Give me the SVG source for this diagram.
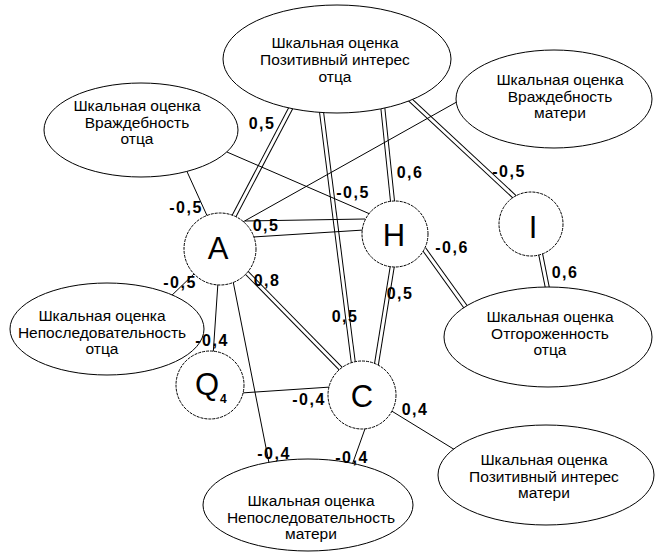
<svg xmlns="http://www.w3.org/2000/svg" width="656" height="555" viewBox="0 0 656 555">
<defs>
<style>
.bg{fill:#fff}
.dbl-o{stroke:#000;stroke-width:5;fill:none}
.dbl-i{stroke:#fff;stroke-width:3;fill:none}
.sgl{stroke:#000;stroke-width:1;fill:none}
.ell{fill:#fff;stroke:#000;stroke-width:1}
.cir{fill:#fff;stroke:#000;stroke-width:1;stroke-dasharray:3 1}
.t{font-family:"Liberation Sans",Arial,sans-serif;font-size:15.5px;text-anchor:middle;fill:#000}
.lbl{font-family:"Liberation Sans",Arial,sans-serif;font-size:16px;font-weight:bold;text-anchor:middle;letter-spacing:1.5px;fill:#000}
.big{font-family:"Liberation Sans",Arial,sans-serif;font-size:31px;text-anchor:middle;fill:#000}
.sub{font-family:"Liberation Sans",Arial,sans-serif;font-size:12px;font-weight:bold;fill:#000}
</style>
</defs>
<rect class="bg" x="0" y="0" width="656" height="555"/>
<g id="connectors">
  <g id="d1"><line class="dbl-o" x1="295" y1="100" x2="233" y2="218"/><line class="dbl-i" x1="295" y1="100" x2="233" y2="218"/></g>
  <g id="d3"><line class="dbl-o" x1="382" y1="100" x2="393" y2="206"/><line class="dbl-i" x1="382" y1="100" x2="393" y2="206"/></g>
  <g id="d4"><line class="dbl-o" x1="320" y1="100" x2="354" y2="368"/><line class="dbl-i" x1="320" y1="100" x2="354" y2="368"/></g>
  <g id="d5"><line class="dbl-o" x1="393" y1="262" x2="376" y2="367"/><line class="dbl-i" x1="393" y1="262" x2="376" y2="367"/></g>
  <g id="d6"><line class="dbl-o" x1="243" y1="269" x2="344" y2="372"/><line class="dbl-i" x1="243" y1="269" x2="344" y2="372"/></g>
  <g id="d7"><line class="dbl-o" x1="424" y1="249" x2="470" y2="313"/><line class="dbl-i" x1="424" y1="249" x2="470" y2="313"/></g>
  <g id="d8"><line class="dbl-o" x1="405" y1="95" x2="519" y2="201"/><line class="dbl-i" x1="405" y1="95" x2="519" y2="201"/></g>
  <g id="d9"><line class="dbl-o" x1="540" y1="251" x2="549" y2="296"/><line class="dbl-i" x1="540" y1="251" x2="549" y2="296"/></g>
  <line class="sgl" x1="245" y1="221" x2="365" y2="219"/>
  <line class="sgl" x1="253" y1="237" x2="364" y2="230"/>
  <line class="sgl" x1="184" y1="165" x2="209" y2="220"/>
  <line class="sgl" x1="220" y1="149" x2="370" y2="214"/>
  <line class="sgl" x1="462" y1="99" x2="241" y2="223"/>
  <line class="sgl" x1="168" y1="299" x2="196" y2="272"/>
  <line class="sgl" x1="218" y1="282" x2="213" y2="356"/>
  <line class="sgl" x1="233" y1="281" x2="270" y2="468"/>
  <line class="sgl" x1="241" y1="393" x2="331" y2="387"/>
  <line class="sgl" x1="366" y1="426" x2="351" y2="468"/>
  <line class="sgl" x1="390" y1="410" x2="460" y2="453"/>
</g>
<g id="n-pos-father">
  <ellipse class="ell" cx="337" cy="59" rx="114" ry="54"/>
  <text class="t" x="335" y="47.5">Шкальная оценка</text>
  <text class="t" x="335" y="64.5">Позитивный интерес</text>
  <text class="t" x="335" y="81.5">отца</text>
</g>
<g id="n-host-father">
  <ellipse class="ell" cx="141" cy="130" rx="97" ry="47"/>
  <text class="t" x="137" y="111">Шкальная оценка</text>
  <text class="t" x="137" y="127.5">Враждебность</text>
  <text class="t" x="137" y="144">отца</text>
</g>
<g id="n-host-mother">
  <ellipse class="ell" cx="554" cy="99" rx="98" ry="49"/>
  <text class="t" x="560" y="85">Шкальная оценка</text>
  <text class="t" x="560" y="101.5">Враждебность</text>
  <text class="t" x="560" y="118">матери</text>
</g>
<g id="n-incons-father">
  <ellipse class="ell" cx="107" cy="329" rx="97" ry="46"/>
  <text class="t" x="102" y="321">Шкальная оценка</text>
  <text class="t" x="102" y="337.5">Непоследовательность</text>
  <text class="t" x="102" y="354">отца</text>
</g>
<g id="n-detach-father">
  <ellipse class="ell" cx="548" cy="337" rx="104" ry="50"/>
  <text class="t" x="550" y="322">Шкальная оценка</text>
  <text class="t" x="550" y="338.5">Отгороженность</text>
  <text class="t" x="550" y="355">отца</text>
</g>
<g id="n-pos-mother">
  <ellipse class="ell" cx="546" cy="475" rx="108" ry="50"/>
  <text class="t" x="544" y="465">Шкальная оценка</text>
  <text class="t" x="544" y="481.5">Позитивный интерес</text>
  <text class="t" x="544" y="498">матери</text>
</g>
<g id="n-incons-mother">
  <ellipse class="ell" cx="308" cy="505" rx="105" ry="46"/>
  <text class="t" x="311" y="506">Шкальная оценка</text>
  <text class="t" x="311" y="522.5">Непоследовательность</text>
  <text class="t" x="311" y="539">матери</text>
</g>
<g id="n-A">
  <circle class="cir" cx="220" cy="249" r="36"/>
  <text class="big" x="218" y="259">A</text>
</g>
<g id="n-H">
  <circle class="cir" cx="395" cy="234" r="33"/>
  <text class="big" x="394" y="246">H</text>
</g>
<g id="n-I">
  <circle class="cir" cx="531" cy="224" r="32"/>
  <text class="big" x="533" y="238">I</text>
</g>
<g id="n-Q4">
  <circle class="cir" cx="210" cy="385" r="34"/>
  <text class="big" x="207" y="395">Q</text>
  <text class="sub" x="220" y="403">4</text>
</g>
<g id="n-C">
  <circle class="cir" cx="362" cy="395" r="34"/>
  <text class="big" x="362" y="407">C</text>
</g>
<g id="labels">
  <text class="lbl" x="186" y="213">-0,5</text>
  <text class="lbl" x="262" y="129">0,5</text>
  <text class="lbl" x="353" y="198">-0,5</text>
  <text class="lbl" x="266" y="231">0,5</text>
  <text class="lbl" x="410" y="178">0,6</text>
  <text class="lbl" x="345" y="322">0,5</text>
  <text class="lbl" x="400" y="299">0,5</text>
  <text class="lbl" x="267" y="286">0,8</text>
  <text class="lbl" x="452" y="253">-0,6</text>
  <text class="lbl" x="509" y="177">-0,5</text>
  <text class="lbl" x="565" y="278">0,6</text>
  <text class="lbl" x="180" y="288">-0,5</text>
  <text class="lbl" x="212" y="346">-0,4</text>
  <text class="lbl" x="274" y="459">-0,4</text>
  <text class="lbl" x="309" y="405">-0,4</text>
  <text class="lbl" x="352" y="463">-0,4</text>
  <text class="lbl" x="415" y="415">0,4</text>
</g>
</svg>
